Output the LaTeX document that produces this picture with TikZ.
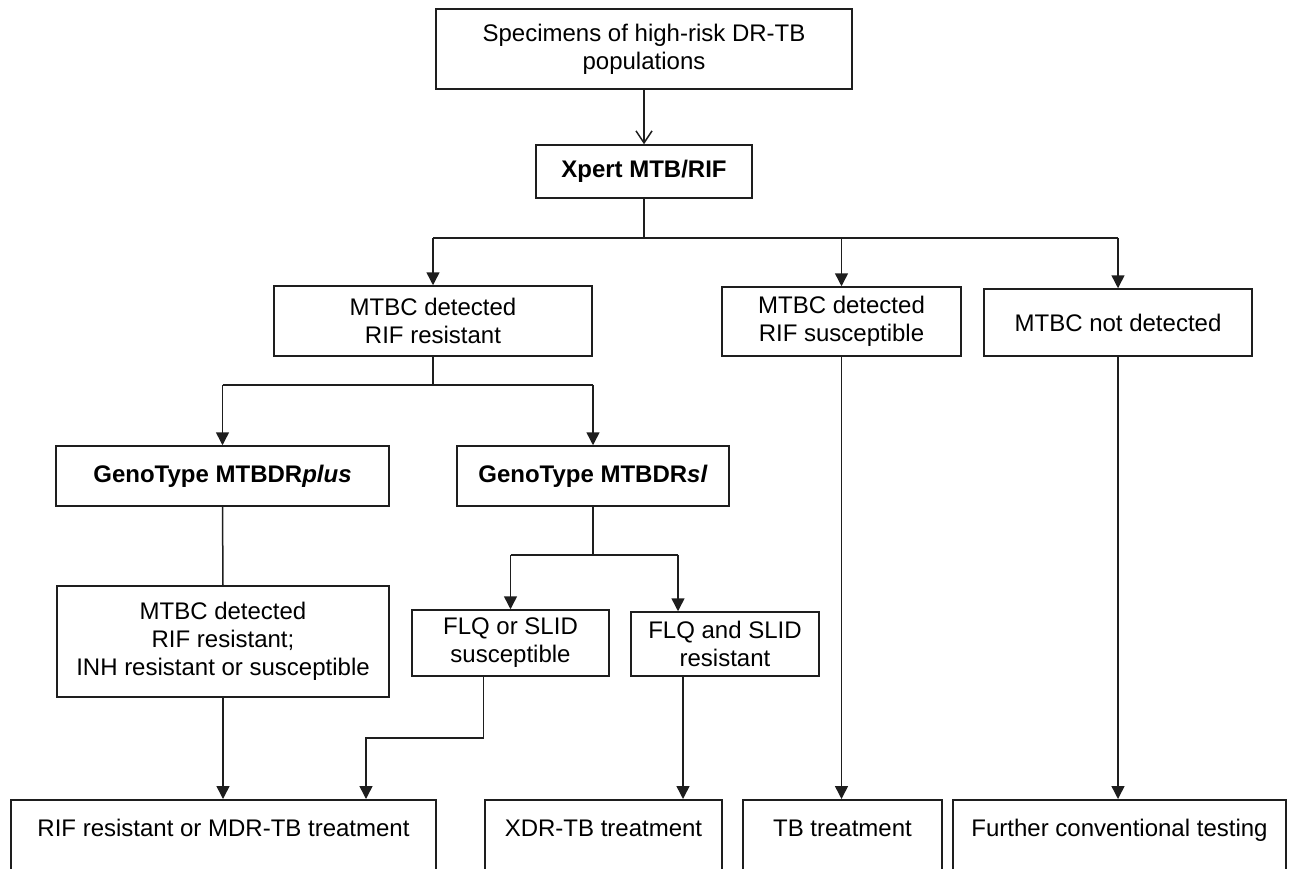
\documentclass[tikz,border=0pt]{standalone}
\usepackage{fontspec}
\setmainfont{Liberation Sans}
\usetikzlibrary{arrows.meta}
\definecolor{boxline}{HTML}{1E1E1E}

\begin{document}
\begin{tikzpicture}[x=1pt,y=-1pt,
  box/.style={draw=boxline,line width=1.5pt,align=center,inner sep=0pt,font=\fontsize{24}{28}\selectfont},
  endbox/.style={box,anchor=north,text height=30pt,text depth=60pt,inner ysep=7pt},
  lin/.style={draw=boxline,line width=1.5pt},
  arr/.style={lin,-{Triangle[length=13pt,width=13pt]}}]
\useasboundingbox (0,0) rectangle (1290,869);
\clip (0,0) rectangle (1290,869);

% first row
\node[box,minimum width=416pt,minimum height=80pt] (spec) at (644,49) {Specimens of high-risk DR-TB\\populations};
\node[box,minimum width=216pt,minimum height=53pt,font=\fontsize{24}{28}\selectfont\bfseries] (xpert) at (644,171.5) {Xpert MTB/RIF};

% Xpert results
\node[box,minimum width=318pt,minimum height=70pt] (rifres) at (433,321) {MTBC detected\\RIF resistant};
\node[box,minimum width=239pt,minimum height=69pt] (rifsus) at (841.5,321.5) {MTBC detected\\RIF susceptible};
\node[box,minimum width=268pt,minimum height=67pt] (notdet) at (1118,322.5) {MTBC not detected};

% line probe assays
\node[box,minimum width=333pt,minimum height=60pt,font=\fontsize{24}{28}\selectfont\bfseries] (plus) at (222.5,476) {GenoType MTBDR\textit{plus}};
\node[box,minimum width=272pt,minimum height=60pt,font=\fontsize{24}{28}\selectfont\bfseries] (sl) at (593,476) {GenoType MTBDR\textit{sl}};

\node[box,minimum width=332pt,minimum height=111pt] (inh) at (223,641.5) {MTBC detected\\RIF resistant;\\INH resistant or susceptible};
\node[box,minimum width=197pt,minimum height=66pt] (flqor) at (510.5,643) {FLQ or SLID\\susceptible};
\node[box,minimum width=188pt,minimum height=64pt] (flqand) at (725,644) {FLQ and SLID\\resistant};

% treatment
\node[endbox,minimum width=425pt] (mdr) at (223.5,799) {RIF resistant or MDR-TB treatment};
\node[endbox,minimum width=237pt] (xdr) at (603.5,799) {XDR-TB treatment};
\node[endbox,minimum width=199pt] (tbt) at (842.5,799) {TB treatment};
\node[endbox,minimum width=333pt] (further) at (1119.5,799) {Further conventional testing};

% connectors
\draw[lin,-{Straight Barb[length=12pt,width=16pt]}] (spec.south) -- (xpert.north);

\draw[lin] (xpert.south) -- ++(0,39) coordinate (bus1);
\draw[lin] (bus1 -| rifres.north) -- (bus1 -| notdet.north);
\foreach \n in {rifres,rifsus,notdet}
  \draw[arr] (bus1 -| \n.north) -- (\n.north);

\draw[lin] (rifres.south) -- ++(0,28) coordinate (bus2);
\draw[lin] (bus2 -| plus.north) -- (bus2 -| sl.north);
\draw[arr] (bus2 -| plus.north) -- (plus.north);
\draw[arr] (bus2 -| sl.north) -- (sl.north);

\draw[lin] (plus.south) -- (inh.north);
\draw[arr] (inh.south) -- (inh.south |- mdr.north);

\coordinate (flqandin) at ([xshift=-47pt]flqand.north);
\draw[lin] (sl.south) -- ++(0,48) coordinate (bus3);
\draw[lin] (bus3 -| flqor.north) -- (bus3 -| flqandin);
\draw[arr] (bus3 -| flqor.north) -- (flqor.north);
\draw[arr] (bus3 -| flqandin) -- (flqandin);

\draw[arr] ([xshift=-27pt]flqor.south) -- ++(0,61) -| ([xshift=142.5pt]mdr.north);
\draw[arr] ([xshift=-42pt]flqand.south) -- ([xshift=-42pt]flqand.south |- xdr.north);
\draw[arr] (rifsus.south) -- (rifsus.south |- tbt.north);
\draw[arr] (notdet.south) -- (notdet.south |- further.north);
\end{tikzpicture}
\end{document}
